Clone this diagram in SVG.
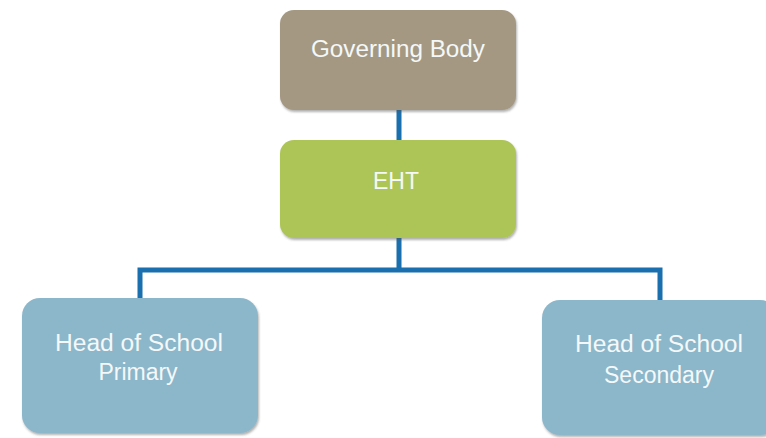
<svg xmlns="http://www.w3.org/2000/svg" width="766" height="438" viewBox="0 0 766 438">
<defs>
<filter id="sh" x="-10%" y="-10%" width="120%" height="130%">
<feDropShadow dx="1" dy="2" stdDeviation="1" flood-color="#555" flood-opacity="0.45"/>
</filter>
<style>
.box{filter:url(#sh);}
.t{font-family:"Liberation Sans",Arial,sans-serif;font-size:23px;fill:#f4f8f8;text-anchor:middle;}
.c{fill:none;stroke:#1a6fae;stroke-width:5;stroke-linejoin:miter;}
</style>
</defs>
<rect width="766" height="438" fill="#ffffff"/>
<g id="connectors">
<path class="c" d="M399 108 V142"/>
<path class="c" d="M399 236 V270 M140 300 V270 H660 V302"/>
</g>
<g id="governing-body">
<rect class="box" x="280" y="10" width="236" height="100" rx="14" fill="#a49883"/>
<text class="t" x="398" y="57" textLength="174" lengthAdjust="spacingAndGlyphs">Governing Body</text>
</g>
<g id="eht">
<rect class="box" x="280" y="140" width="236" height="98" rx="14" fill="#adc557"/>
<text class="t" x="396" y="189">EHT</text>
</g>
<g id="head-primary">
<rect class="box" x="22" y="298" width="236" height="135" rx="18" fill="#8cb6ca"/>
<text class="t" x="139" y="351" textLength="168" lengthAdjust="spacingAndGlyphs">Head of School</text>
<text class="t" x="138" y="380">Primary</text>
</g>
<g id="head-secondary">
<rect class="box" x="542" y="300" width="236" height="135" rx="18" fill="#8cb6ca"/>
<text class="t" x="659" y="352" textLength="168" lengthAdjust="spacingAndGlyphs">Head of School</text>
<text class="t" x="659" y="383">Secondary</text>
</g>
</svg>
